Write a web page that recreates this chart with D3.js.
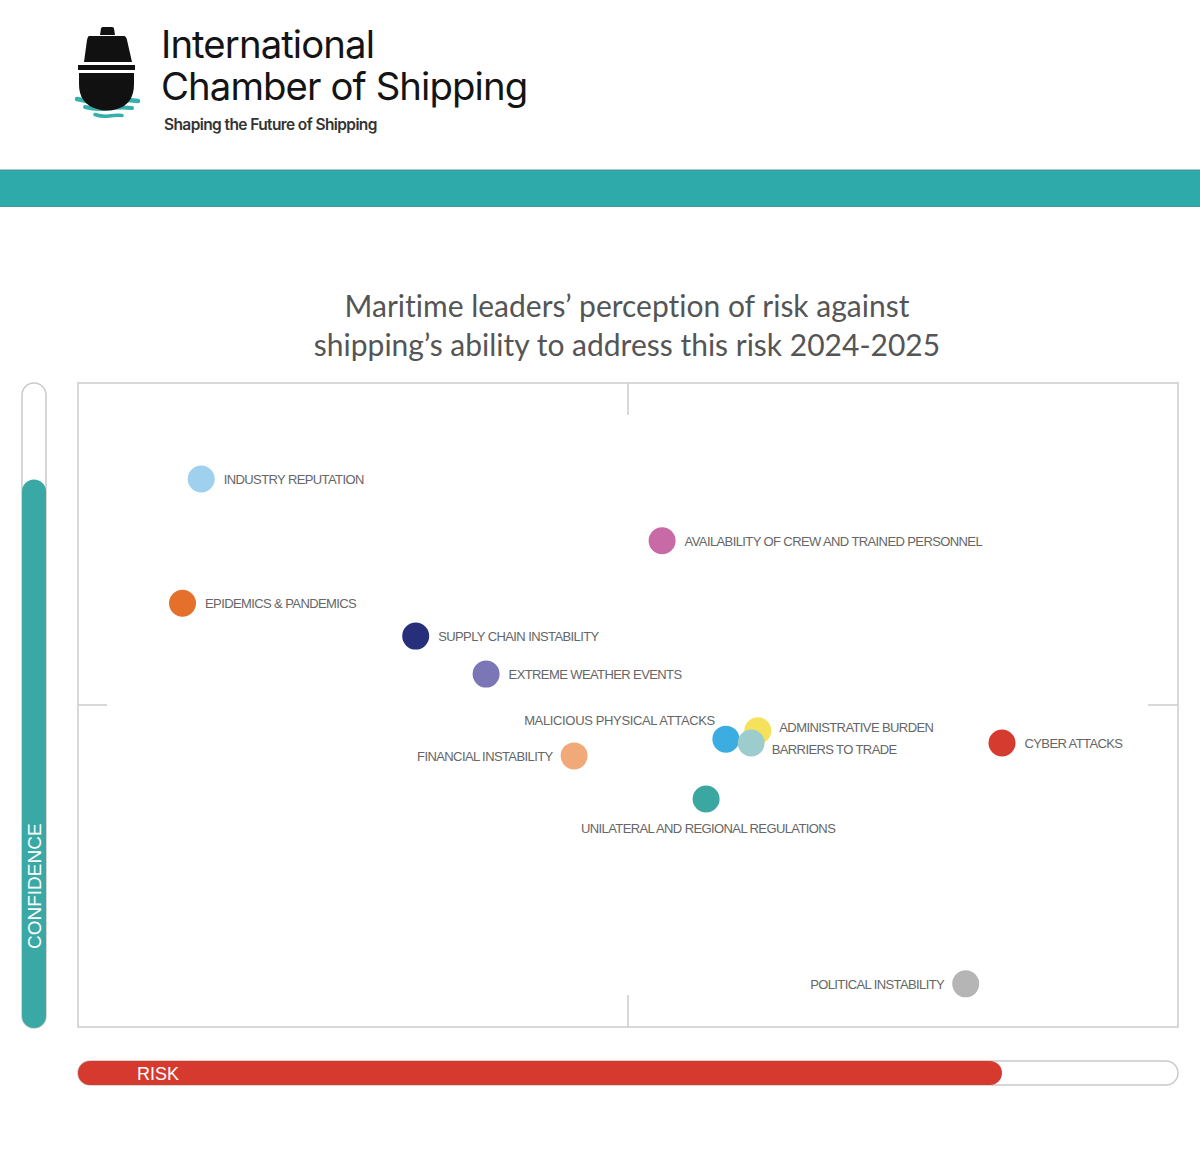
<!DOCTYPE html>
<html>
<head>
<meta charset="utf-8">
<script src="https://cdn.jsdelivr.net/npm/d3@7"></script>
<style>
  html, body { margin: 0; padding: 0; background: #ffffff; }
  svg { display: block; }
  text { font-variant-ligatures: none; font-feature-settings: "liga" 0, "clig" 0; }
</style>
</head>
<body>
<script>
// ---------------- DATA ----------------
const riskLabels = [
  "ADMINISTRATIVE BURDEN",
  "INDUSTRY REPUTATION",
  "AVAILABILITY OF CREW AND TRAINED PERSONNEL",
  "EPIDEMICS & PANDEMICS",
  "SUPPLY CHAIN INSTABILITY",
  "EXTREME WEATHER EVENTS",
  "MALICIOUS PHYSICAL ATTACKS",
  "BARRIERS TO TRADE",
  "FINANCIAL INSTABILITY",
  "CYBER ATTACKS",
  "UNILATERAL AND REGIONAL REGULATIONS",
  "POLITICAL INSTABILITY"
];
// perceived risk (x, 0-100) and confidence in shipping's ability to address it (y, 0-100)
const riskScores       = [61.8, 11.2, 53.1,  9.5, 30.7, 37.1, 58.9, 61.2, 45.1, 84.0, 57.1, 80.7];
const confidenceScores = [46.0, 85.1, 75.5, 65.8, 60.7, 54.8, 44.7, 44.1, 42.1, 44.1, 35.4,  6.7];
const dotColours = ["#f6e25a", "#9fd1ee", "#c86aa6", "#e4702c", "#272f7b", "#7b76b6",
                    "#3badE0", "#9ccccb", "#f1a97a", "#d63b30", "#3aa8a0", "#b5b5b5"];
const overallRisk = 84;        // RISK bar fill
const overallConfidence = 85;  // CONFIDENCE bar fill
const titleLines = ["Maritime leaders\u2019 perception of risk against",
                    "shipping\u2019s ability to address this risk 2024-2025"];

// ---------------- LAYOUT ----------------
const W = 1200, H = 1169;
const svg = d3.select("body").append("svg").attr("width", W).attr("height", H);

const plot = { left: 78, right: 1178, top: 383, bottom: 1027 };
const x = d3.scaleLinear().domain([0, 100]).range([plot.left, plot.right]);
const y = d3.scaleLinear().domain([0, 100]).range([plot.bottom, plot.top]);

// ---------------- HEADER / LOGO ----------------
const logo = svg.append("g");
const teal = "#35b0aa";
// waves (behind hull)
logo.append("path").attr("d", "M77,99 Q92,103 107.5,101 Q123,99 138,101").attr("fill", "none").attr("stroke", teal).attr("stroke-width", 4.5).attr("stroke-linecap", "round");
logo.append("path").attr("d", "M85,107 Q96,110 108,108.5 Q120,107 132,108").attr("fill", "none").attr("stroke", teal).attr("stroke-width", 4).attr("stroke-linecap", "round");
logo.append("path").attr("d", "M95,114.5 Q102,117 109,116 Q116,115 122,115.5").attr("fill", "none").attr("stroke", teal).attr("stroke-width", 3.5).attr("stroke-linecap", "round");
// funnel
logo.append("path").attr("d", "M100,35 L101,28.5 Q101,27 103,27 L112,27 Q114,27 114,28.5 L115,35 Z").attr("fill", "#111");
// superstructure
logo.append("path").attr("d", "M89,36 L124,36 Q126,36 127,40 L132,62 L84,62 L87,40 Q88,36 89,36 Z").attr("fill", "#111");
// band
logo.append("rect").attr("x", 78).attr("y", 65).attr("width", 57).attr("height", 5).attr("fill", "#111");
// hull
logo.append("path").attr("d", "M79,73 L134,73 L134,84 Q134,104 117,109 Q107,112 97,109 Q79,104 79,84 Z").attr("fill", "#111");

const logoFont = "Inter, 'Noto Sans', sans-serif";
logo.append("text").attr("x", 161).attr("y", 58)
  .attr("font-family", logoFont).attr("font-size", 38.3).attr("font-weight", 400)
  .attr("letter-spacing", -0.9).attr("fill", "#141414").text("International");
logo.append("text").attr("x", 161).attr("y", 100)
  .attr("font-family", logoFont).attr("font-size", 38.3).attr("font-weight", 400)
  .attr("letter-spacing", -0.9).attr("fill", "#141414").text("Chamber of Shipping");
logo.append("text").attr("x", 164).attr("y", 130)
  .attr("font-family", logoFont).attr("font-size", 15.5).attr("font-weight", 600)
  .attr("letter-spacing", -0.6).attr("fill", "#333").text("Shaping the Future of Shipping");

// teal band
svg.append("rect").attr("x", 0).attr("y", 170).attr("width", W).attr("height", 37).attr("fill", "#2faaaa");
svg.append("rect").attr("x", 0).attr("y", 169.5).attr("width", W).attr("height", 1.5).attr("fill", "#4a9898");
svg.append("rect").attr("x", 0).attr("y", 206).attr("width", W).attr("height", 1).attr("fill", "#3a9d9b");

// ---------------- TITLE ----------------
svg.append("g").selectAll("text").data(titleLines).join("text")
  .attr("x", 627).attr("y", (d, i) => 317 + i * 39)
  .attr("text-anchor", "middle")
  .attr("font-family", "Lato, 'Noto Sans', sans-serif").attr("font-size", 30)
  .style("font-variant-ligatures", "none")
  .attr("fill", "#555").text(d => d);

// ---------------- PLOT FRAME ----------------
const frame = svg.append("g").attr("fill", "none").attr("stroke", "#cfcfcf").attr("stroke-width", 1.6);
frame.append("rect").attr("x", plot.left).attr("y", plot.top)
  .attr("width", plot.right - plot.left).attr("height", plot.bottom - plot.top);
const xm = x(50), ym = y(50);
frame.append("line").attr("x1", xm).attr("x2", xm).attr("y1", plot.top).attr("y2", plot.top + 32);
frame.append("line").attr("x1", xm).attr("x2", xm).attr("y1", plot.bottom - 32).attr("y2", plot.bottom);
frame.append("line").attr("x1", plot.left).attr("x2", plot.left + 29).attr("y1", ym).attr("y2", ym);
frame.append("line").attr("x1", plot.right - 30).attr("x2", plot.right).attr("y1", ym).attr("y2", ym);

// ---------------- CONFIDENCE BAR ----------------
const cb = { x: 22, w: 24 };
svg.append("rect").attr("x", cb.x).attr("y", plot.top).attr("width", cb.w).attr("height", plot.bottom - plot.top + 1)
  .attr("rx", 12).attr("fill", "#fff").attr("stroke", "#c9c9c9").attr("stroke-width", 1.5);
svg.append("rect").attr("x", cb.x).attr("y", y(overallConfidence)).attr("width", cb.w)
  .attr("height", plot.bottom + 1 - y(overallConfidence)).attr("rx", 12).attr("fill", "#3aa9a6");
svg.append("text").attr("transform", `translate(${cb.x + cb.w / 2 + 6.8},949) rotate(-90)`)
  .attr("font-family", "'Liberation Sans', Arial, sans-serif").attr("font-size", 19)
  .attr("fill", "#fff").text("CONFIDENCE");

// ---------------- RISK BAR ----------------
const rb = { y: 1061, h: 24 };
svg.append("rect").attr("x", plot.left).attr("y", rb.y).attr("width", plot.right - plot.left).attr("height", rb.h)
  .attr("rx", 12).attr("fill", "#fff").attr("stroke", "#c9c9c9").attr("stroke-width", 1.5);
svg.append("rect").attr("x", plot.left).attr("y", rb.y).attr("width", x(overallRisk) - plot.left).attr("height", rb.h)
  .attr("rx", 12).attr("fill", "#d63a2f");
svg.append("text").attr("x", 137).attr("y", rb.y + rb.h / 2 + 6.5)
  .attr("font-family", "'Liberation Sans', Arial, sans-serif").attr("font-size", 18)
  .attr("fill", "#fff").text("RISK");

// ---------------- POINTS ----------------
const points = riskLabels.map((label, i) => ({
  label, risk: riskScores[i], conf: confidenceScores[i], colour: dotColours[i]
}));
const r = 13.5;
// label placement relative to each dot
const placement = {
  "MALICIOUS PHYSICAL ATTACKS": { side: "upleft" },
  "FINANCIAL INSTABILITY": { side: "left" },
  "POLITICAL INSTABILITY": { side: "left" },
  "UNILATERAL AND REGIONAL REGULATIONS": { side: "below" },
  "ADMINISTRATIVE BURDEN": { side: "rightup" },
  "BARRIERS TO TRADE": { side: "rightdown" }
};

const dots = svg.append("g");
dots.selectAll("circle").data(points).join("circle")
  .attr("cx", d => x(d.risk)).attr("cy", d => y(d.conf)).attr("r", r)
  .attr("fill", d => d.colour);

const labels = svg.append("g")
  .attr("font-family", "'Liberation Sans', Arial, sans-serif").attr("font-size", 13)
  .attr("letter-spacing", -0.6).attr("fill", "#666");
labels.selectAll("text").data(points).join("text")
  .attr("x", d => {
    const s = (placement[d.label] || { side: "right" }).side;
    const cx = x(d.risk);
    if (s === "left") return cx - r - 8;
    if (s === "upleft") return cx - 11;
    if (s === "below") return cx + 2;
    if (s === "rightup") return cx + r + 8;
    if (s === "rightdown") return cx + r + 7;
    return cx + r + 9;
  })
  .attr("y", d => {
    const s = (placement[d.label] || { side: "right" }).side;
    const cy = y(d.conf);
    if (s === "upleft") return cy - 14;
    if (s === "below") return cy + 34;
    if (s === "rightup") return cy + 1.5;
    if (s === "rightdown") return cy + 11;
    if (s === "left") return cy + 5.5;
    return cy + 5;
  })
  .attr("text-anchor", d => {
    const s = (placement[d.label] || { side: "right" }).side;
    if (s === "left" || s === "upleft") return "end";
    if (s === "below") return "middle";
    return "start";
  })
  .attr("letter-spacing", d => d.label === "MALICIOUS PHYSICAL ATTACKS" ? -0.35 : null)
  .text(d => d.label);
</script>
</body>
</html>
